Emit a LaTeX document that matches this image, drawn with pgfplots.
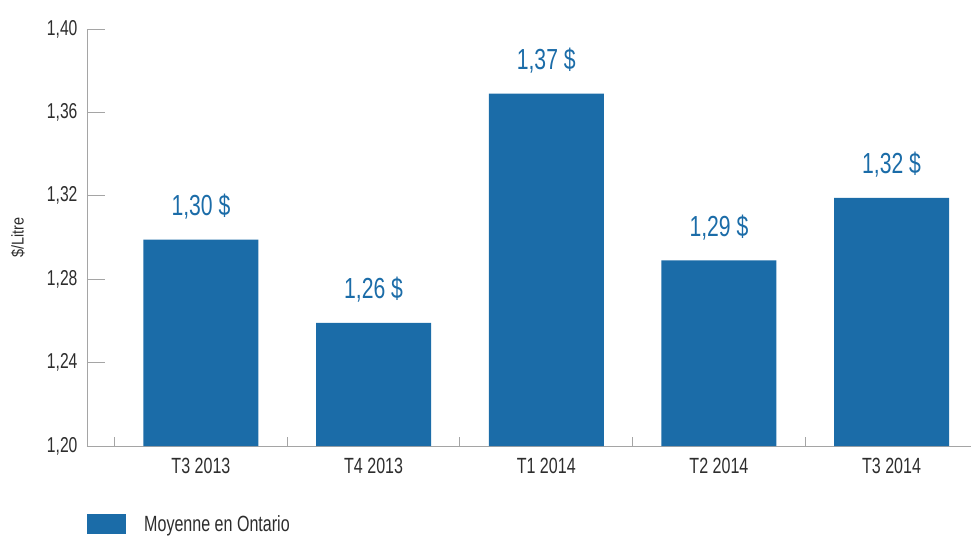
\documentclass[border=0pt]{standalone}
\usepackage{fontspec}
\setmainfont{Liberation Sans}[FakeStretch=0.73]
\newfontfamily\labfont{Liberation Sans}[FakeStretch=0.85]
\usepackage{pgfplots}
\pgfplotsset{compat=1.18}
\definecolor{barblue}{RGB}{27,108,168}
\definecolor{axgrey}{RGB}{165,165,165}
\definecolor{txt}{RGB}{45,45,45}
\begin{document}
\begin{tikzpicture}
\path[use as bounding box] (-87pt,-89pt) rectangle (884pt,446pt);
\begin{axis}[
  scale only axis,
  at={(0,0)}, anchor=south west,
  width=884pt, height=417pt,
  xmin=-0.66, xmax=4.46,
  ymin=1.20, ymax=1.40,
  axis x line*=bottom, axis y line*=left,
  axis line style={axgrey, line width=0.9pt, -},
  ytick={1.20,1.24,1.28,1.32,1.36,1.40},
  xtick={0,1,2,3,4},
  xticklabels={T3 2013,T4 2013,T1 2014,T2 2014,T3 2014},
  minor xtick={-0.5,0.5,1.5,2.5,3.5},
  tick align=inside,
  major tick length=18pt,
  minor tick length=9pt,
  major x tick style={draw=none},
  every tick/.style={axgrey, line width=0.9pt},
  minor x tick style={axgrey, line width=0.9pt},
  /pgf/number format/assume math mode=true,
  y tick label style={/pgf/number format/fixed, /pgf/number format/fixed zerofill, /pgf/number format/precision=2, /pgf/number format/use comma},
  yticklabel style={font=\fontsize{21.5}{24}\selectfont, text=txt, xshift=-6pt},
  xticklabel style={font=\fontsize{22}{24}\selectfont, text=txt, yshift=-9pt},
  ylabel={\$/Litre},
  every axis y label/.style={at={(axis description cs:0,0.5)}, xshift=-69pt, rotate=90, anchor=center,
    font=\labfont\fontsize{17}{20}\selectfont, text=txt},
  clip=false,
  legend style={draw=none, fill=none, at={(axis description cs:0,-0.187)}, anchor=west,
    inner sep=0pt, font=\fontsize{22}{24}\selectfont, text=txt,
    legend cell align=left, nodes={inner sep=0pt}},
  legend image code/.code={\fill[barblue] (0pt,-10pt) rectangle (39pt,10pt);},
  legend columns=1,
]
\addplot[ybar, bar width=0.666, fill=barblue, draw=none,
  point meta=explicit symbolic,
  nodes near coords,
  every node near coord/.append style={font=\fontsize{29}{32}\selectfont, text=barblue, anchor=base, yshift=24pt}]
coordinates {
  (0,1.299) [1,30 \$]
  (1,1.259) [1,26 \$]
  (2,1.369) [1,37 \$]
  (3,1.289) [1,29 \$]
  (4,1.319) [1,32 \$]
};
\addlegendentry{\hspace{18pt}Moyenne en Ontario}
\end{axis}
\end{tikzpicture}
\end{document}
